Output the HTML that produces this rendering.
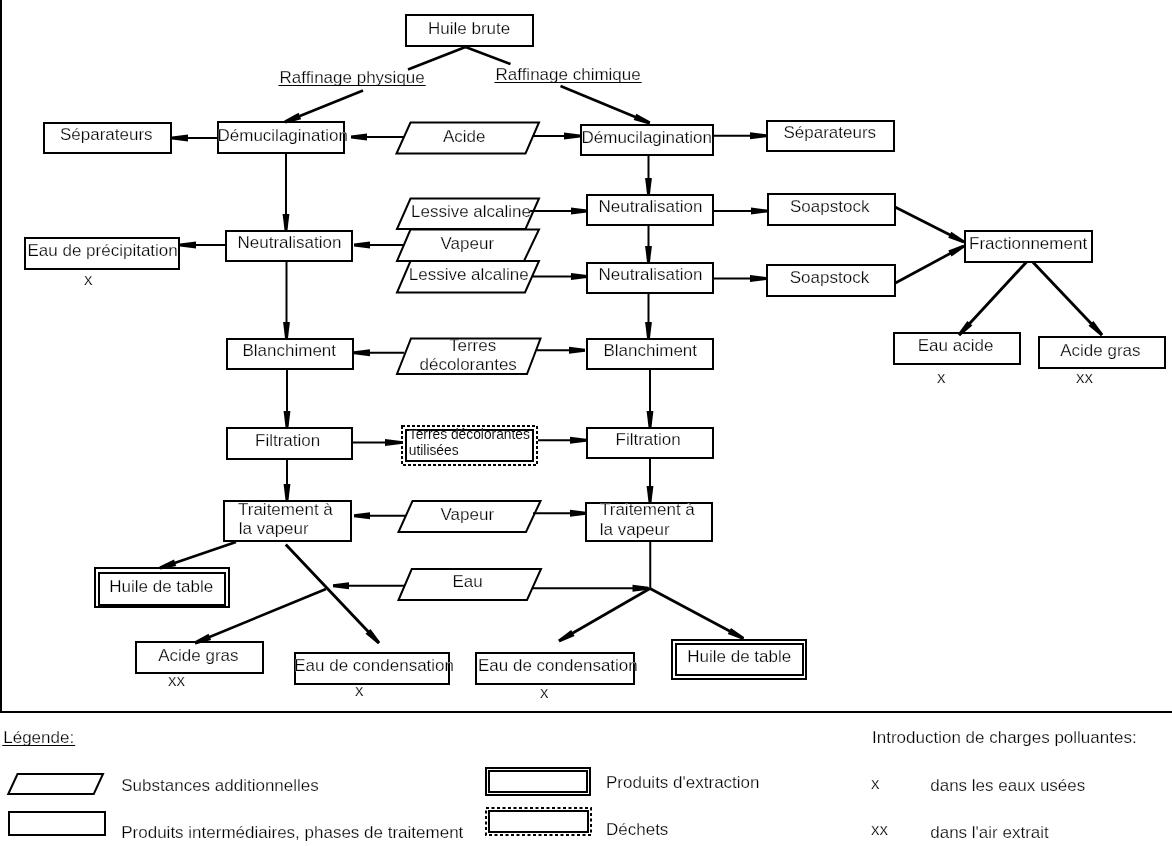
<!DOCTYPE html>
<html><head><meta charset="utf-8"><style>
html,body{margin:0;padding:0;background:#fff;width:1172px;height:846px;overflow:hidden}
svg{display:block;font-family:"Liberation Sans",sans-serif;fill:#000;will-change:transform}
text{stroke:#fff;stroke-width:0.25px;paint-order:fill stroke}
</style></head><body>
<svg width="1172" height="846" viewBox="0 0 1172 846">
<rect x="0" y="0" width="2" height="713" fill="#000"/>
<rect x="0" y="711" width="1172" height="2" fill="#000"/>
<rect x="406.0" y="15.0" width="127" height="31" fill="none" stroke="#000" stroke-width="2"/>
<rect x="44.0" y="123.0" width="127" height="30" fill="none" stroke="#000" stroke-width="2"/>
<rect x="218.0" y="122.0" width="126" height="31" fill="none" stroke="#000" stroke-width="2"/>
<polygon points="410.5,122.5 539,122.5 525.5,153.5 396.5,153.5" fill="none" stroke="#000" stroke-width="2" stroke-linejoin="miter"/>
<rect x="581.0" y="125.0" width="132" height="30" fill="none" stroke="#000" stroke-width="2"/>
<rect x="767.0" y="121.0" width="127" height="30" fill="none" stroke="#000" stroke-width="2"/>
<polygon points="410.5,198.5 539,198.5 525.5,229 397,229" fill="none" stroke="#000" stroke-width="2" stroke-linejoin="miter"/>
<rect x="587.0" y="195.0" width="126" height="30" fill="none" stroke="#000" stroke-width="2"/>
<rect x="768.0" y="194.0" width="127" height="31" fill="none" stroke="#000" stroke-width="2"/>
<rect x="25.0" y="238.0" width="154" height="31" fill="none" stroke="#000" stroke-width="2"/>
<rect x="226.0" y="231.0" width="126" height="30" fill="none" stroke="#000" stroke-width="2"/>
<polygon points="410.5,229.5 539,229.5 524,261 397,261" fill="none" stroke="#000" stroke-width="2" stroke-linejoin="miter"/>
<polygon points="410.5,261 539,261 525,292.5 397,292.5" fill="none" stroke="#000" stroke-width="2" stroke-linejoin="miter"/>
<rect x="587.0" y="263.0" width="126" height="30" fill="none" stroke="#000" stroke-width="2"/>
<rect x="767.0" y="265.0" width="128" height="31" fill="none" stroke="#000" stroke-width="2"/>
<rect x="965.0" y="231.0" width="127" height="31" fill="none" stroke="#000" stroke-width="2"/>
<rect x="894.0" y="333.0" width="126" height="31" fill="none" stroke="#000" stroke-width="2"/>
<rect x="1039.0" y="337.0" width="126" height="31" fill="none" stroke="#000" stroke-width="2"/>
<rect x="227.0" y="339.0" width="126" height="30" fill="none" stroke="#000" stroke-width="2"/>
<polygon points="411,338.5 540.5,338.5 527,374 397,374" fill="none" stroke="#000" stroke-width="2" stroke-linejoin="miter"/>
<rect x="587.0" y="339.0" width="126" height="30" fill="none" stroke="#000" stroke-width="2"/>
<rect x="227.0" y="428.0" width="125" height="31" fill="none" stroke="#000" stroke-width="2"/>
<rect x="402.0" y="426.0" width="135" height="39" fill="none" stroke="#000" stroke-width="2" stroke-dasharray="3,2"/>
<rect x="406.0" y="430.0" width="127" height="31" fill="none" stroke="#000" stroke-width="2"/>
<rect x="587.0" y="428.0" width="126" height="30" fill="none" stroke="#000" stroke-width="2"/>
<rect x="224.0" y="501.0" width="127" height="40" fill="none" stroke="#000" stroke-width="2"/>
<polygon points="412.5,501 540.5,501 526,532 398.5,532" fill="none" stroke="#000" stroke-width="2" stroke-linejoin="miter"/>
<rect x="586.0" y="503.0" width="126" height="38" fill="none" stroke="#000" stroke-width="2"/>
<rect x="95.0" y="568.0" width="134" height="39" fill="none" stroke="#000" stroke-width="2"/>
<rect x="99.0" y="573.0" width="126" height="32" fill="none" stroke="#000" stroke-width="2"/>
<polygon points="411.75,569 541,569 527,600 398.5,600" fill="none" stroke="#000" stroke-width="2" stroke-linejoin="miter"/>
<rect x="136.0" y="642.0" width="127" height="31" fill="none" stroke="#000" stroke-width="2"/>
<rect x="295.0" y="653.0" width="154" height="31" fill="none" stroke="#000" stroke-width="2"/>
<rect x="476.0" y="653.0" width="158" height="31" fill="none" stroke="#000" stroke-width="2"/>
<rect x="672.0" y="640.0" width="134" height="39" fill="none" stroke="#000" stroke-width="2"/>
<rect x="676.0" y="644.0" width="127" height="31" fill="none" stroke="#000" stroke-width="2"/>
<line x1="465.5" y1="47" x2="408" y2="69.5" stroke="#000" stroke-width="2.59"/>
<line x1="465.5" y1="47" x2="510.5" y2="64" stroke="#000" stroke-width="2.58"/>
<line x1="363" y1="90.5" x2="285" y2="122" stroke="#000" stroke-width="2.6"/>
<polygon points="284.44,120.61 298.56,112.86 301.11,119.16 285.56,123.39" fill="#000"/>
<line x1="560.5" y1="86" x2="649.75" y2="123" stroke="#000" stroke-width="2.61"/>
<polygon points="649.18,124.39 633.67,120.01 636.27,113.73 650.32,121.61" fill="#000"/>
<line x1="217" y1="138" x2="172" y2="138" stroke="#000" stroke-width="2.0"/>
<polygon points="172.00,136.50 188.00,134.60 188.00,141.40 172.00,139.50" fill="#000"/>
<line x1="404" y1="137" x2="351" y2="137" stroke="#000" stroke-width="2.0"/>
<polygon points="351.00,135.50 367.00,133.60 367.00,140.40 351.00,138.50" fill="#000"/>
<line x1="533" y1="136" x2="580" y2="136" stroke="#000" stroke-width="2.0"/>
<polygon points="580.00,137.50 564.00,139.40 564.00,132.60 580.00,134.50" fill="#000"/>
<line x1="714" y1="135.75" x2="766" y2="135.75" stroke="#000" stroke-width="2.0"/>
<polygon points="766.00,137.25 750.00,139.15 750.00,132.35 766.00,134.25" fill="#000"/>
<line x1="286" y1="154" x2="286" y2="230" stroke="#000" stroke-width="2.0"/>
<polygon points="284.50,230.00 282.60,214.00 289.40,214.00 287.50,230.00" fill="#000"/>
<line x1="648.5" y1="156" x2="648.5" y2="194" stroke="#000" stroke-width="2.0"/>
<polygon points="647.00,194.00 645.10,178.00 651.90,178.00 650.00,194.00" fill="#000"/>
<line x1="530" y1="211" x2="587" y2="211" stroke="#000" stroke-width="2.0"/>
<polygon points="587.00,212.50 571.00,214.40 571.00,207.60 587.00,209.50" fill="#000"/>
<line x1="714" y1="211" x2="767" y2="211" stroke="#000" stroke-width="2.0"/>
<polygon points="767.00,212.50 751.00,214.40 751.00,207.60 767.00,209.50" fill="#000"/>
<line x1="226" y1="245" x2="180" y2="245" stroke="#000" stroke-width="2.0"/>
<polygon points="180.00,243.50 196.00,241.60 196.00,248.40 180.00,246.50" fill="#000"/>
<line x1="404" y1="245" x2="354" y2="245" stroke="#000" stroke-width="2.0"/>
<polygon points="354.00,243.50 370.00,241.60 370.00,248.40 354.00,246.50" fill="#000"/>
<line x1="533" y1="276.5" x2="587" y2="276.5" stroke="#000" stroke-width="2.0"/>
<polygon points="587.00,278.00 571.00,279.90 571.00,273.10 587.00,275.00" fill="#000"/>
<line x1="648.5" y1="226" x2="648.5" y2="262" stroke="#000" stroke-width="2.0"/>
<polygon points="647.00,262.00 645.10,246.00 651.90,246.00 650.00,262.00" fill="#000"/>
<line x1="714" y1="278.5" x2="766" y2="278.5" stroke="#000" stroke-width="2.0"/>
<polygon points="766.00,280.00 750.00,281.90 750.00,275.10 766.00,277.00" fill="#000"/>
<line x1="895" y1="207" x2="964" y2="242" stroke="#000" stroke-width="2.69"/>
<polygon points="963.32,243.34 948.19,237.79 951.27,231.73 964.68,240.66" fill="#000"/>
<line x1="894.5" y1="283.5" x2="964" y2="246" stroke="#000" stroke-width="2.71"/>
<polygon points="964.71,247.32 951.53,256.59 948.30,250.61 963.29,244.68" fill="#000"/>
<line x1="1026.5" y1="262" x2="959" y2="335" stroke="#000" stroke-width="2.83"/>
<polygon points="957.90,333.98 967.37,320.94 972.36,325.56 960.10,336.02" fill="#000"/>
<line x1="1032.75" y1="262" x2="1102" y2="335" stroke="#000" stroke-width="2.83"/>
<polygon points="1100.91,336.03 1088.52,325.73 1093.46,321.05 1103.09,333.97" fill="#000"/>
<line x1="286.5" y1="262" x2="286.5" y2="338" stroke="#000" stroke-width="2.0"/>
<polygon points="285.00,338.00 283.10,322.00 289.90,322.00 288.00,338.00" fill="#000"/>
<line x1="648.5" y1="294" x2="648.5" y2="338" stroke="#000" stroke-width="2.0"/>
<polygon points="647.00,338.00 645.10,322.00 651.90,322.00 650.00,338.00" fill="#000"/>
<line x1="404" y1="352.75" x2="354" y2="352.75" stroke="#000" stroke-width="2.0"/>
<polygon points="354.00,351.25 370.00,349.35 370.00,356.15 354.00,354.25" fill="#000"/>
<line x1="537" y1="350.25" x2="585" y2="350.25" stroke="#000" stroke-width="2.0"/>
<polygon points="585.00,351.75 569.00,353.65 569.00,346.85 585.00,348.75" fill="#000"/>
<line x1="287" y1="370" x2="287" y2="427" stroke="#000" stroke-width="2.0"/>
<polygon points="285.50,427.00 283.60,411.00 290.40,411.00 288.50,427.00" fill="#000"/>
<line x1="650" y1="370" x2="650" y2="427" stroke="#000" stroke-width="2.0"/>
<polygon points="648.50,427.00 646.60,411.00 653.40,411.00 651.50,427.00" fill="#000"/>
<line x1="353" y1="442.5" x2="401" y2="442.5" stroke="#000" stroke-width="2.0"/>
<polygon points="401.00,444.00 385.00,445.90 385.00,439.10 401.00,441.00" fill="#000"/>
<line x1="538" y1="440.25" x2="586" y2="440.25" stroke="#000" stroke-width="2.0"/>
<polygon points="586.00,441.75 570.00,443.65 570.00,436.85 586.00,438.75" fill="#000"/>
<line x1="287" y1="460" x2="287" y2="500" stroke="#000" stroke-width="2.0"/>
<polygon points="285.50,500.00 283.60,484.00 290.40,484.00 288.50,500.00" fill="#000"/>
<line x1="650" y1="459" x2="650" y2="502" stroke="#000" stroke-width="2.0"/>
<polygon points="648.50,502.00 646.60,486.00 653.40,486.00 651.50,502.00" fill="#000"/>
<line x1="405" y1="515.75" x2="354" y2="515.75" stroke="#000" stroke-width="2.0"/>
<polygon points="354.00,514.25 370.00,512.35 370.00,519.15 354.00,517.25" fill="#000"/>
<line x1="533" y1="513.25" x2="586" y2="513.25" stroke="#000" stroke-width="2.0"/>
<polygon points="586.00,514.75 570.00,516.65 570.00,509.85 586.00,511.75" fill="#000"/>
<line x1="236" y1="542" x2="160" y2="568" stroke="#000" stroke-width="2.54"/>
<polygon points="159.51,566.58 174.04,559.60 176.24,566.04 160.49,569.42" fill="#000"/>
<line x1="285.75" y1="544.5" x2="379" y2="643" stroke="#000" stroke-width="2.83"/>
<polygon points="377.91,644.03 365.53,633.72 370.47,629.04 380.09,641.97" fill="#000"/>
<line x1="405" y1="585.75" x2="333" y2="585.75" stroke="#000" stroke-width="2.0"/>
<polygon points="333.00,584.25 349.00,582.35 349.00,589.15 333.00,587.25" fill="#000"/>
<line x1="326" y1="589" x2="195" y2="643" stroke="#000" stroke-width="2.61"/>
<polygon points="194.43,641.61 208.50,633.76 211.09,640.05 195.57,644.39" fill="#000"/>
<line x1="533" y1="588.25" x2="648.5" y2="588.25" stroke="#000" stroke-width="2.0"/>
<polygon points="648.50,589.75 632.50,591.65 632.50,584.85 648.50,586.75" fill="#000"/>
<line x1="650.25" y1="542" x2="650.25" y2="588.25" stroke="#000" stroke-width="2.0"/>
<line x1="650" y1="588.5" x2="559" y2="641" stroke="#000" stroke-width="2.73"/>
<polygon points="558.25,639.70 571.16,630.06 574.56,635.95 559.75,642.30" fill="#000"/>
<line x1="650" y1="588.5" x2="743.5" y2="638.5" stroke="#000" stroke-width="2.71"/>
<polygon points="742.79,639.82 727.79,633.95 730.99,627.96 744.21,637.18" fill="#000"/>
<polygon points="17.5,774 103,774 93.75,794 8.25,794" fill="none" stroke="#000" stroke-width="2" stroke-linejoin="miter"/>
<rect x="9.0" y="812.0" width="96" height="23" fill="none" stroke="#000" stroke-width="2"/>
<rect x="486.0" y="768.0" width="104" height="27" fill="none" stroke="#000" stroke-width="2"/>
<rect x="489.0" y="771.0" width="98" height="21" fill="none" stroke="#000" stroke-width="2"/>
<rect x="486.0" y="808.0" width="105" height="27" fill="none" stroke="#000" stroke-width="2" stroke-dasharray="3,2.5"/>
<rect x="489.0" y="811.0" width="99" height="21" fill="none" stroke="#000" stroke-width="2"/>
<text x="428" y="34" font-size="17">Huile brute</text>
<text x="60" y="140" font-size="17">Séparateurs</text>
<text x="217.5" y="140.5" font-size="17">Démucilagination</text>
<text x="443" y="142" font-size="17">Acide</text>
<text x="581.5" y="142.5" font-size="17">Démucilagination</text>
<text x="783.5" y="137.5" font-size="17">Séparateurs</text>
<text x="411" y="217" font-size="17">Lessive alcaline</text>
<text x="598.5" y="212" font-size="17">Neutralisation</text>
<text x="790" y="212" font-size="17">Soapstock</text>
<text x="27.5" y="256" font-size="17">Eau de précipitation</text>
<text x="84" y="285" font-size="17">x</text>
<text x="237.5" y="248" font-size="17">Neutralisation</text>
<text x="440.5" y="248.5" font-size="17">Vapeur</text>
<text x="408.75" y="279.75" font-size="17">Lessive alcaline</text>
<text x="598.5" y="280.25" font-size="17">Neutralisation</text>
<text x="789.75" y="283" font-size="17">Soapstock</text>
<text x="969" y="248.5" font-size="17">Fractionnement</text>
<text x="917.75" y="351" font-size="17">Eau acide</text>
<text x="937" y="383" font-size="17">x</text>
<text x="1060.25" y="356" font-size="17">Acide gras</text>
<text x="1076" y="383" font-size="17">xx</text>
<text x="242.5" y="356" font-size="17">Blanchiment</text>
<text x="449" y="351" font-size="17">Terres</text>
<text x="419.5" y="370" font-size="17">décolorantes</text>
<text x="603.5" y="356" font-size="17">Blanchiment</text>
<text x="255" y="446.25" font-size="17">Filtration</text>
<text x="408.75" y="439" font-size="13.8" style="stroke-width:0.08px">Terres décolorantes</text>
<text x="408.75" y="454.5" font-size="13.8" style="stroke-width:0.08px">utilisées</text>
<text x="615.5" y="445.25" font-size="17">Filtration</text>
<text x="238" y="515" font-size="17">Traitement à</text>
<text x="238.75" y="534" font-size="17">la vapeur</text>
<text x="440.5" y="520.25" font-size="17">Vapeur</text>
<text x="600" y="515" font-size="17">Traitement à</text>
<text x="599.75" y="534.5" font-size="17">la vapeur</text>
<text x="109.25" y="592" font-size="17">Huile de table</text>
<text x="452.5" y="587" font-size="17">Eau</text>
<text x="158.25" y="660.5" font-size="17">Acide gras</text>
<text x="168" y="686" font-size="17">xx</text>
<text x="294.25" y="671" font-size="17">Eau de condensation</text>
<text x="355" y="695.5" font-size="17">x</text>
<text x="478" y="671" font-size="17">Eau de condensation</text>
<text x="540" y="697.5" font-size="17">x</text>
<text x="687.25" y="661.75" font-size="17">Huile de table</text>
<text x="3.25" y="743" font-size="17">Légende:</text>
<text x="121.25" y="791" font-size="17">Substances additionnelles</text>
<text x="121.25" y="838" font-size="17">Produits intermédiaires, phases de traitement</text>
<text x="606" y="787.5" font-size="17">Produits d'extraction</text>
<text x="606" y="835" font-size="17">Déchets</text>
<text x="872" y="743" font-size="17">Introduction de charges polluantes:</text>
<text x="871" y="788.5" font-size="17">x</text>
<text x="871" y="835" font-size="17">xx</text>
<text x="930.25" y="791" font-size="17">dans les eaux usées</text>
<text x="930.25" y="838" font-size="17">dans l'air extrait</text>
<text x="279.5" y="83" font-size="17">Raffinage physique</text>
<text x="495.5" y="80" font-size="17">Raffinage chimique</text>
<rect x="2.25" y="745" width="72.890625" height="1" fill="#000"/>
<rect x="278.5" y="85" width="147.21875" height="1" fill="#000"/>
<rect x="494.5" y="82" width="147.203125" height="1" fill="#000"/>
</svg>
</body></html>
